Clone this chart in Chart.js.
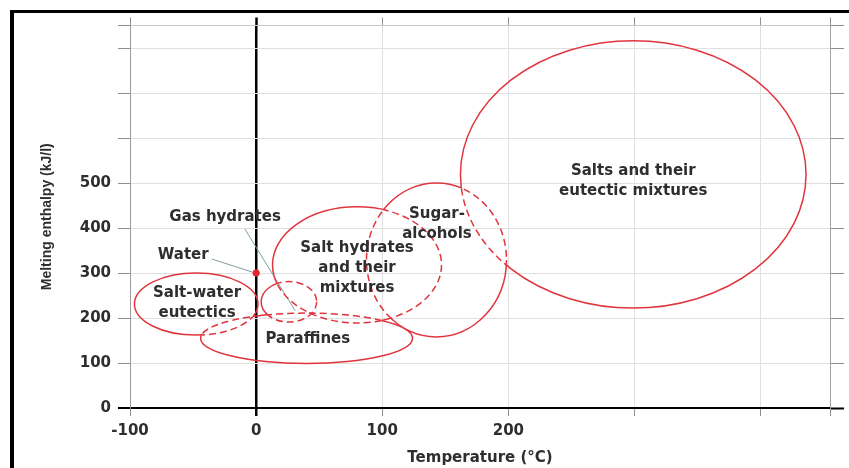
<!DOCTYPE html>
<html><head><meta charset="utf-8">
<script src="https://cdn.jsdelivr.net/npm/chart.js@4.4.1/dist/chart.umd.min.js"></script>
<style>
html,body{margin:0;padding:0;background:#fff;}
#wrap{position:relative;width:849px;height:468px;overflow:hidden;}
#frame{position:absolute;left:10px;top:10px;right:-10px;bottom:-10px;border-left:4px solid #000;border-top:3px solid #000;pointer-events:none;}
canvas{position:absolute;left:0;top:0;}
</style></head>
<body><div id="wrap"><canvas id="c" width="849" height="468"></canvas><div id="frame"></div></div>
<script>
// ---- data (temperature in °C, melting enthalpy in kJ/l) ----
const groupNames = ['Salt-water eutectics','Paraffines','Gas hydrates','Salt hydrates and their mixtures','Sugar-alcohols','Salts and their eutectic mixtures'];
const tempCenter = [-47.5, 40, 26, 80, 143, 299];
const enthalpyCenter = [231, 155, 236, 318, 329, 519];
const tempHalfRange = [49, 84, 22, 67, 55.5, 137];
const enthalpyHalfRange = [69, 56, 45, 129, 171, 297];

const labelLines = [['Salt-water','eutectics'],['Paraffines'],['Gas hydrates'],['Salt hydrates','and their','mixtures'],['Sugar-','alcohols'],['Salts and their','eutectic mixtures'],['Water']];
const labelTemp = [-46.8, 41, -24.6, 80, 143.4, 299, -57.8];
const labelEnthalpy = [233, 153, 424, 311, 409, 504, 340];

const waterPoint = [{x:0, y:300}];
const waterLeader = [{x:-35, y:331}, {x:-3, y:302}];
const gasLeader = [{x:-9, y:398}, {x:31, y:216}];

const xTickLabels = [-100, 0, 100, 200];
const yTickLabels = [0, 100, 200, 300, 400, 500];

// ---- styles ----
const gridGrey = '#e0e0e0';
const tickGrey = '#8e8e8e';
const textCol = '#2e2e2e';
const red = '#e0353d';
const isZero = c => c.tick && c.tick.value === 0;
const tickFont = {family:'DejaVu Sans', weight:'bold', size:15};

const groupsPlugin = {
  id:'groups',
  afterDatasetsDraw(chart){
    const {ctx, scales:{x, y}} = chart;
    const E = groupNames.map((_, i) => {
      const cx = x.getPixelForValue(tempCenter[i]);
      const cy = y.getPixelForValue(enthalpyCenter[i]);
      return {cx, cy,
        rx: Math.abs(x.getPixelForValue(tempCenter[i] + tempHalfRange[i]) - cx),
        ry: Math.abs(y.getPixelForValue(enthalpyCenter[i] + enthalpyHalfRange[i]) - cy)};
    });
    const path = e => { ctx.moveTo(e.cx + e.rx, e.cy); ctx.ellipse(e.cx, e.cy, e.rx, e.ry, 0, 0, 2*Math.PI); };
    ctx.save();
    ctx.strokeStyle = red; ctx.lineWidth = 1.5;
    E.forEach((e, i) => {
      ctx.save();
      E.forEach((o, j) => { if (j === i) return; ctx.beginPath(); ctx.rect(0, 0, chart.width, chart.height); path(o); ctx.clip('evenodd'); });
      ctx.setLineDash([]); ctx.beginPath(); path(e); ctx.stroke();
      ctx.restore();
      ctx.save();
      ctx.beginPath(); E.forEach((o, j) => { if (j !== i) path(o); }); ctx.clip('nonzero');
      ctx.setLineDash([7, 4]); ctx.beginPath(); path(e); ctx.stroke();
      ctx.restore();
    });
    ctx.fillStyle = textCol; ctx.font = 'bold 15px "DejaVu Sans"';
    ctx.textAlign = 'center'; ctx.textBaseline = 'middle';
    labelLines.forEach((lines, k) => {
      const lx = x.getPixelForValue(labelTemp[k]);
      const ly = y.getPixelForValue(labelEnthalpy[k]);
      const lh = 20;
      lines.forEach((t, m) => ctx.fillText(t, lx, ly + (m - (lines.length - 1)/2) * lh));
    });
    ctx.restore();
  }
};

new Chart(document.getElementById('c'), {
  type:'scatter',
  data:{datasets:[
    {data:waterPoint, pointRadius:3.2, pointHoverRadius:3.2, backgroundColor:'#e3262e', borderColor:'#e3262e'},
    {data:waterLeader, showLine:true, borderColor:'#7fa0a0', borderWidth:1, pointRadius:0},
    {data:gasLeader, showLine:true, borderColor:'#7fa0a0', borderWidth:1, pointRadius:0}
  ]},
  options:{
    responsive:false, animation:false, events:[],
    layout:{padding:0},
    plugins:{legend:{display:false}, tooltip:{enabled:false}},
    scales:{
      x:{type:'linear', position:'bottom', min:-100, max:455,
        afterFit:s => { s.height = 60; },
        ticks:{stepSize:100, padding:6, color:textCol, font:tickFont, maxRotation:0, autoSkip:false,
          callback:v => xTickLabels.includes(v) ? String(v) : ''},
        grid:{color:c => isZero(c) ? '#000' : gridGrey, lineWidth:c => isZero(c) ? 2.5 : 1,
          tickColor:c => isZero(c) ? '#000' : tickGrey, tickWidth:c => isZero(c) ? 2.5 : 1, tickLength:8},
        border:{display:true, color:'#000', width:2},
        title:{display:true, text:'Temperature (°C)', color:textCol, font:tickFont, padding:{top:0, bottom:1}}
      },
      x2:{type:'linear', position:'top', min:-100, max:455,
        afterFit:s => { s.height = 25.5; },
        ticks:{display:false, stepSize:100},
        grid:{drawOnChartArea:false, tickLength:8,
          tickColor:c => isZero(c) ? '#000' : tickGrey, tickWidth:c => isZero(c) ? 2.5 : 1},
        border:{display:true, color:'#c8c8c8', width:1}
      },
      y:{type:'linear', position:'left', min:0, max:850,
        afterFit:s => { s.width = 130; },
        ticks:{stepSize:100, padding:7, color:textCol, font:tickFont, autoSkip:false,
          callback:v => yTickLabels.includes(v) ? String(v) : ''},
        grid:{color:c => isZero(c) ? '#000' : gridGrey, lineWidth:c => isZero(c) ? 2 : 1,
          tickColor:c => isZero(c) ? '#000' : tickGrey, tickWidth:c => isZero(c) ? 2 : 1, tickLength:12},
        border:{display:true, color:'#9a9a9a', width:1},
        title:{display:true, text:'Melting enthalpy (kJ/l)', color:textCol,
          font:{family:'Liberation Sans', weight:'bold', size:14}, padding:{top:39, bottom:0}}
      },
      y2:{type:'linear', position:'right', min:0, max:850,
        afterFit:s => { s.width = 19; },
        ticks:{display:false, stepSize:100},
        grid:{drawOnChartArea:false, tickLength:14,
          tickColor:c => isZero(c) ? '#000' : tickGrey, tickWidth:c => isZero(c) ? 2 : 1},
        border:{display:true, color:'#a0a0a0', width:1}
      }
    }
  },
  plugins:[groupsPlugin]
});
</script>
</body></html>
